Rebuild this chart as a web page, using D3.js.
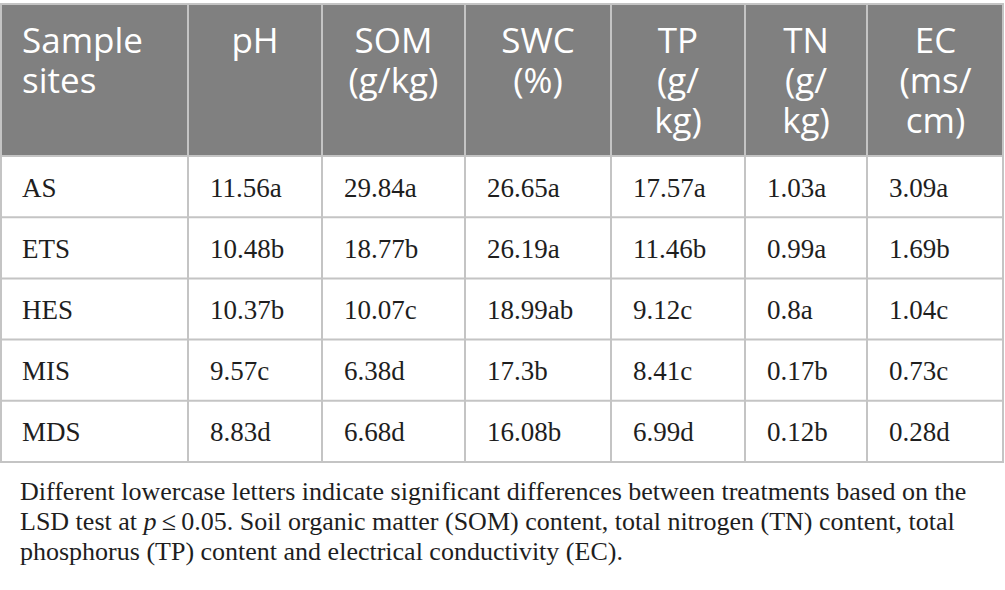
<html>
  <head>
    <meta charset="utf-8" />
    <script src="https://d3js.org/d3.v7.min.js"></script>
  </head>
  <style>
    body { margin: 0; background: #fff; }
    svg { display: block; }
  </style>
  <body>
    <div id="viz"><svg></svg></div>
    <script>
      // table content
      var sites = ["AS", "ETS", "HES", "MIS", "MDS"];
      var headers = [
        ["Sample", "sites"],
        ["pH"],
        ["SOM", "(g/kg)"],
        ["SWC", "(%)"],
        ["TP", "(g/", "kg)"],
        ["TN", "(g/", "kg)"],
        ["EC", "(ms/", "cm)"]
      ];
      var pH = ["11.56a", "10.48b", "10.37b", "9.57c", "8.83d"];
      var SOM = ["29.84a", "18.77b", "10.07c", "6.38d", "6.68d"];
      var SWC = ["26.65a", "26.19a", "18.99ab", "17.3b", "16.08b"];
      var TP = ["17.57a", "11.46b", "9.12c", "8.41c", "6.99d"];
      var TN = ["1.03a", "0.99a", "0.8a", "0.17b", "0.12b"];
      var EC = ["3.09a", "1.69b", "1.04c", "0.73c", "0.28d"];
      var notes = [
        [{ t: "Different lowercase letters indicate significant differences between treatments based on the" }],
        [{ t: "LSD test at " }, { t: "p", i: true }, { t: "\u2009\u2264\u20090.05. Soil organic matter (SOM) content, total nitrogen (TN) content, total" }],
        [{ t: "phosphorus (TP) content and electrical conductivity (EC)." }]
      ];

      var columns = [sites, pH, SOM, SWC, TP, TN, EC];

      // layout
      var W = 1005, H = 590;
      var colEdges = [0, 188, 322, 465, 611, 745, 867, 1004];
      var headTop = 4, headBottom = 156, tableBottom = 462;
      var border = "#c4c4c4";

      var svg = d3.select("svg").attr("width", W).attr("height", H);

      var y = d3.scaleBand()
        .domain(d3.range(sites.length))
        .range([headBottom, tableBottom]);

      // header background
      svg.append("rect")
        .attr("x", colEdges[0]).attr("y", headTop)
        .attr("width", colEdges[colEdges.length - 1] - colEdges[0])
        .attr("height", headBottom - headTop)
        .attr("fill", "#808080");

      // header text
      var hd = svg.selectAll("text.head")
        .data(headers)
        .enter()
        .append("text")
        .attr("class", "head")
        .attr("font-family", "'Open Sans', 'Noto Sans', sans-serif")
        .attr("font-size", 35)
        .attr("fill", "#fff")
        .attr("text-anchor", function (d, i) { return i === 0 ? "start" : "middle"; })
        .attr("x", function (d, i) {
          return i === 0 ? colEdges[0] + 22 : (colEdges[i] + colEdges[i + 1]) / 2;
        })
        .attr("y", headTop + 49);
      hd.selectAll("tspan")
        .data(function (d, i) { return d.map(function (s) { return { s: s, i: i }; }); })
        .enter()
        .append("tspan")
        .attr("x", function (d) {
          return d.i === 0 ? colEdges[0] + 22 : (colEdges[d.i] + colEdges[d.i + 1]) / 2;
        })
        .attr("dy", function (d, j) { return j === 0 ? 0 : 40; })
        .text(function (d) { return d.s; });

      // body cells
      columns.forEach(function (col, c) {
        svg.selectAll("text.c" + c)
          .data(col)
          .enter()
          .append("text")
          .attr("class", "c" + c)
          .attr("font-family", "'Liberation Serif', 'DejaVu Serif', serif")
          .attr("font-size", 27)
          .attr("fill", "#1e1e1e")
          .attr("x", colEdges[c] + 22)
          .attr("y", function (d, r) { return y(r) + y.bandwidth() / 2 + 10; })
          .text(function (d) { return d; });
      });

      // grid lines
      var g = svg.append("g").attr("stroke", border).attr("stroke-width", 2).attr("fill", "none");
      g.selectAll("line.v")
        .data(colEdges)
        .enter()
        .append("line")
        .attr("x1", function (d, i) { return i === 0 ? d + 1 : (i === colEdges.length - 1 ? d - 1 : d); })
        .attr("x2", function (d, i) { return i === 0 ? d + 1 : (i === colEdges.length - 1 ? d - 1 : d); })
        .attr("y1", headTop).attr("y2", tableBottom);
      g.selectAll("line.h")
        .data([headTop].concat(d3.range(sites.length).map(function (r) { return y(r); })).concat([tableBottom]))
        .enter()
        .append("line")
        .attr("x1", colEdges[0]).attr("x2", colEdges[colEdges.length - 1])
        .attr("y1", function (d) { return d; }).attr("y2", function (d) { return d; });

      // footnote
      var fn = svg.selectAll("text.note")
        .data(notes)
        .enter()
        .append("text")
        .attr("class", "note")
        .attr("font-family", "'Liberation Serif', 'DejaVu Serif', serif")
        .attr("font-size", 26)
        .attr("fill", "#1e1e1e")
        .attr("x", 20)
        .attr("y", function (d, i) { return 500 + i * 30; });
      fn.selectAll("tspan")
        .data(function (d) { return d; })
        .enter()
        .append("tspan")
        .attr("font-style", function (d) { return d.i ? "italic" : null; })
        .text(function (d) { return d.t; });
    </script>
  </body>
</html>
